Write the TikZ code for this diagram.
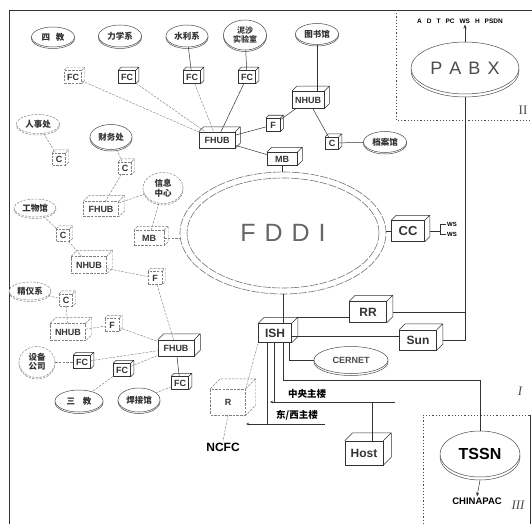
\documentclass[tikz,border=0pt]{standalone}
\usepackage{fontspec}
\setmainfont{Liberation Sans}
\newfontfamily\cjk{Noto Sans CJK SC}
\newfontfamily\romanf{Liberation Serif}
\usetikzlibrary{shapes.geometric,arrows.meta}
\tikzset{
  ln/.style={draw=black!80,line width=0.5pt},
  fz/.style={draw=black!50,line width=0.45pt,dash pattern=on 2.5pt off 1.2pt},
  pl/.style={draw=black!70,line width=0.5pt},
  fr/.style={draw=black!70,line width=0.6pt,dash pattern=on 1.2pt off 2pt},
  bxn/.style={draw,fill=white,inner sep=1pt,font=\bfseries\fontsize{9}{10}\selectfont,text=black!80},
  plc/.style={ellipse,draw,inner sep=0pt,font=\cjk\bfseries\fontsize{8.5}{9.5}\selectfont,align=center,text=black!80},
  big/.style={font=\bfseries\fontsize{12}{13}\selectfont},
  tip/.style={-{Stealth[length=4pt,width=3pt]}},
  wst/.style={inner sep=0.5pt,font=\bfseries\fontsize{6}{6}\selectfont},
  cjkl/.style={inner sep=0.5pt,font=\cjk\bfseries\fontsize{9.5}{10}\selectfont},
  rl/.style={inner sep=0pt,font=\romanf\fontsize{13}{13}\selectfont,text=black!70},
}
\newcommand{\cube}[6][ln]{%
  \node[bxn,#1,#5] (#2) at #3 {#4};
  \draw[#1] (#2.north west) -- ++(#6,#6) -- ([shift={(#6,#6)}]#2.north east) -- ([shift={(#6,#6)}]#2.south east) -- (#2.south east) (#2.north east) -- ++(#6,#6);
}
\newcommand{\place}[5][pl]{%
  \node[plc,#1,#5,yshift=-1.5pt] at #3 {};
  \node[plc,#1,#5,fill=white] (#2) at #3 {#4};
}
\newcommand{\bigplace}[5][3pt]{%
  \node[ellipse,pl,inner sep=0pt,#5,yshift=-#1] at #3 {};
  \node[ellipse,pl,inner sep=0pt,#5,fill=white] (#2) at #3 {#4};
}
\newcommand{\pgap}{\hspace{5pt}}
\begin{document}
\begin{tikzpicture}[x=1pt,y=-1pt]
\useasboundingbox (0,0) rectangle (532,524);
% frames
\coordinate (tl) at (9,10); \coordinate (bl) at (9,524); \coordinate (tr) at (532,10);
\draw[ln] (bl) -- (tl) -- (tr);
\coordinate (r2a) at (396,10); \coordinate (r2b) at (396,120); \coordinate (r2c) at (532,120);
\draw[fr] (r2a) -- (r2b) -- (r2c);
\coordinate (r3a) at (423,524); \coordinate (r3b) at (423,415); \coordinate (r3c) at (530,415); \coordinate (r3d) at (530,524);
\draw[fr] (r3a) -- (r3b) -- (r3c);
\draw[ln] (r3c) -- (r3d);
\node[rl] (lII) at (523,110) {II};
\node[rl] (lI) at (520,391) {\itshape I};
\node[rl] (lIII) at (518,505) {\itshape III};

% FDDI ring
\node[ellipse,draw=black!55,line width=0.6pt,dash pattern=on 8pt off 1.5pt,minimum width=206pt,minimum height=122pt,font=\fontsize{25}{25}\selectfont,text=black!60] (fddi) at (283,233) {F\hspace{9pt}D\hspace{9pt}D\hspace{9pt}I};
\draw[draw=black!55,line width=0.6pt,dash pattern=on 8pt off 1.5pt] (fddi.center) ellipse [x radius=96pt, y radius=55pt];

% places
\place{sijiao}{(53,37)}{四\hspace{6pt}教}{minimum width=43pt,minimum height=20pt}
\place{lixue}{(120,36)}{力学系}{minimum width=43pt,minimum height=22pt}
\place{shuili}{(187,36)}{水利系}{minimum width=42pt,minimum height=22pt}
\place{nisha}{(245,35)}{泥沙\\实验室}{minimum width=43pt,minimum height=30pt,font=\cjk\bfseries\fontsize{8}{8.5}\selectfont}
\place{tushu}{(317,34)}{图书馆}{minimum width=43pt,minimum height=21pt}
\place{danan}{(385,142)}{档案馆}{minimum width=43pt,minimum height=21pt}
\place[fz]{renshi}{(38,124)}{人事处}{minimum width=43pt,minimum height=19pt}
\place{caiwu}{(111,137)}{财务处}{minimum width=42pt,minimum height=25pt}
\place[fz]{xinxi}{(163,188)}{信息\\中心}{minimum width=40pt,minimum height=31pt}
\place[fz]{gongwu}{(35,208)}{工物馆}{minimum width=42pt,minimum height=18pt}
\place[fz]{jingyi}{(30,291)}{精仪系}{minimum width=42pt,minimum height=18pt}
\place[fz]{shebei}{(37,362)}{设备\\公司}{minimum width=36pt,minimum height=31pt}
\place{sanjiao}{(79,401)}{三\hspace{8pt}教}{minimum width=48pt,minimum height=22pt}
\place{hanjie}{(139,400)}{焊接馆}{minimum width=42pt,minimum height=24pt}

\bigplace{pabx}{(465,68)}{P\hspace{7pt}A\hspace{7pt}B\hspace{7pt}X}{minimum width=108pt,minimum height=52pt,font=\fontsize{18}{18}\selectfont,text=black!70}
\bigplace{tssn}{(480,454)}{TSSN}{minimum width=80pt,minimum height=46pt,font=\bfseries\fontsize{16}{16}\selectfont}
\bigplace[2pt]{cernet}{(351,360)}{CERNET}{minimum width=74pt,minimum height=27pt,font=\bfseries\fontsize{9}{9}\selectfont,text=black!70}

% boxes
\cube{fhubA}{(217,140)}{FHUB}{minimum width=36pt,minimum height=16pt}{5pt}
\cube{nhubA}{(308,100)}{NHUB}{minimum width=32pt,minimum height=17pt}{5pt}
\cube{fA}{(273,125)}{F}{minimum width=14pt,minimum height=13pt}{3pt}
\cube{mbA}{(282,159)}{MB}{minimum width=30pt,minimum height=13pt}{5pt}
\cube{cA}{(332,143)}{C}{minimum width=13pt,minimum height=12pt}{3pt}
\cube[fz]{fc1}{(73,77)}{FC}{minimum width=17pt,minimum height=13pt}{3pt}
\cube{fc2}{(127,77)}{FC}{minimum width=17pt,minimum height=13pt}{3pt}
\cube{fc3}{(192,77)}{FC}{minimum width=17pt,minimum height=13pt}{3pt}
\cube{fc4}{(247,77)}{FC}{minimum width=17pt,minimum height=13pt}{3pt}
\cube[fz]{cR}{(59,159)}{C}{minimum width=13pt,minimum height=12pt}{3pt}
\cube[fz]{cC}{(125,168)}{C}{minimum width=13pt,minimum height=12pt}{3pt}
\cube[fz]{fhubB}{(101,209)}{FHUB}{minimum width=35pt,minimum height=15pt}{6pt}
\cube[fz]{cG}{(63,235)}{C}{minimum width=13pt,minimum height=12pt}{3pt}
\cube[fz]{mbB}{(149,238)}{MB}{minimum width=30pt,minimum height=15pt}{4pt}
\cube[fz]{nhubB}{(89,265)}{NHUB}{minimum width=35pt,minimum height=17pt}{6pt}
\cube[fz]{fB}{(155,278)}{F}{minimum width=14pt,minimum height=13pt}{3pt}
\cube[fz]{cJ}{(66,300)}{C}{minimum width=13pt,minimum height=12pt}{3pt}
\cube[fz]{nhubC}{(68,332)}{NHUB}{minimum width=35pt,minimum height=17pt}{6pt}
\cube[fz]{fC}{(112,325)}{F}{minimum width=14pt,minimum height=13pt}{3pt}
\cube{fhubC}{(176,348)}{FHUB}{minimum width=36pt,minimum height=16pt}{6pt}
\cube{fcA}{(82,362)}{FC}{minimum width=17pt,minimum height=13pt}{3pt}
\cube{fcB}{(122,370)}{FC}{minimum width=17pt,minimum height=13pt}{3pt}
\cube{fcC}{(180,383)}{FC}{minimum width=17pt,minimum height=13pt}{3pt}
\cube{cc}{(408,231)}{CC}{minimum width=33pt,minimum height=21pt,font=\bfseries\fontsize{13}{13}\selectfont}{5pt}
\cube{rr}{(368,312)}{RR}{minimum width=37pt,minimum height=21pt,big}{6pt}
\cube{ish}{(275,333)}{ISH}{minimum width=33pt,minimum height=19pt,big}{6pt}
\cube{sun}{(418,340)}{Sun}{minimum width=37pt,minimum height=20pt,big}{6pt}
\cube[fz]{r}{(228,402)}{R}{minimum width=35pt,minimum height=26pt}{10pt}
\cube{host}{(364,453)}{Host}{minimum width=38pt,minimum height=24pt,big}{8pt}

% text labels
\node[inner sep=1pt,font=\bfseries\fontsize{12}{12}\selectfont] (ncfc) at (223,447) {NCFC};
\node[inner sep=1pt,font=\bfseries\fontsize{9.5}{10}\selectfont] (chinapac) at (477,501) {CHINAPAC};
\node[wst] (wsa) at (452,224) {WS};
\node[wst] (wsb) at (452,234) {WS};
\node[inner sep=1pt,font=\bfseries\fontsize{6.5}{7}\selectfont] (pabxl) at (460,21) {A\pgap D\pgap T\pgap PC\pgap WS\pgap H\pgap PSDN};
\node[cjkl] (zy) at (307,394) {中央主楼};
\node[cjkl] (dx) at (297,415) {东/西主楼};

% connectors - top group
\draw[fz] (fc1) -- (fhubA);
\draw[fz] (fc2) -- (fhubA);
\draw[fz] (fc3) -- (fhubA);
\draw[ln] (fc4) -- (fhubA);
\draw[ln] (shuili) -- (fc3);
\draw[ln] (nisha) -- (fc4);
\draw[ln] (fhubA) -- (fA);
\draw[ln] (fA) -- (nhubA);
\draw[ln] (tushu.south) -- (tushu.south |- nhubA.north);
\draw[ln] (nhubA) -- (cA);
\draw[ln] (cA) -- (danan);
\draw[ln] (fhubA) -- (mbA);
\draw[ln] (mbA.south) -- (mbA.south |- fddi.north);
% left group
\draw[fz] (renshi) -- (cR);
\draw[fz] (caiwu) -- (cC);
\draw[fz] (cC) -- (fhubB);
\draw[fz] (fhubB) -- (xinxi);
\draw[fz] (xinxi) -- (mbB);
\draw[fz] (mbB.east) -- (mbB.east -| fddi.west);
\draw[fz] (gongwu) -- (cG);
\draw[fz] (cG) -- (nhubB);
\draw[fz] (nhubB) -- (fB);
\draw[fz] (fB) -- (fhubC);
\draw[fz] (jingyi) -- (cJ);
\draw[fz] (cJ) -- (nhubC);
\draw[fz] (nhubC) -- (fC);
\draw[fz] (fC) -- (fhubC);
\draw[fz] (shebei) -- (fcA);
\draw[fz] (fcA) -- (fhubC);
\draw[fz] (fcB) -- (fhubC);
\draw[fz] (fcB) -- (sanjiao);
\draw[ln] (fcC) -- (fhubC);
\draw[fz] (fcC) -- (hanjie);
% core
\draw[ln] (fddi.south) -- (fddi.south |- ish.north);
\draw[ln] (cc.west) -- (cc.west -| fddi.east);
\coordinate (wsj) at (440,231);
\draw[ln] ([xshift=5pt]cc.east) -- (wsj);
\draw[ln] (wsj |- wsa) -- (wsj |- wsb);
\draw[ln] (wsj |- wsa) -- (wsa.west);
\draw[ln] (wsj |- wsb) -- (wsb.west);
\draw[ln,tip] (pabx.north) -- (pabx.north |- pabxl.south);
\draw[ln] ([yshift=-3pt]pabx.south) -- (pabx.south |- sun.east) -- ([xshift=6pt]sun.east);
\draw[ln] ([xshift=6pt]rr.east) -- (rr.east -| pabx.south);
\draw[ln] ([yshift=-5pt]rr.west) -- ++(-52,0);
\draw[ln] ([yshift=-3pt]ish.east) -- ([yshift=-3pt]ish.east -| sun.west);
\coordinate (zyL) at (270,402); \coordinate (zyR) at (395,402);
\coordinate (dxL) at (246,424); \coordinate (dxR) at (325,424);
\coordinate (hj) at (372,402);
\draw[ln,-{Stealth[length=3pt,width=2.5pt]}] (zyR) -- (zyL);
\draw[ln,-{Stealth[length=3pt,width=2.5pt]}] (dxR) -- (dxL);
\draw[ln] ([xshift=-8pt]ish.south) -- ([xshift=-8pt]ish.south |- dxL);
\draw[ln] ([xshift=-1pt]ish.south) -- ([xshift=-1pt]ish.south |- zyL);
\draw[ln] ([xshift=8pt]ish.south) -- ++(0,37) -| (tssn.north);
\draw[ln] ([xshift=14pt]ish.south) |- (cernet.west);
\draw[ln] (hj) -- (hj |- host.north);
\draw[fz] (r.north east) -- (ish.south west);
\draw[fz] (r.south) -- (ncfc.north);
\draw[ln,tip] ([yshift=-3pt]tssn.south) -- (chinapac.north);
\end{tikzpicture}
\end{document}
